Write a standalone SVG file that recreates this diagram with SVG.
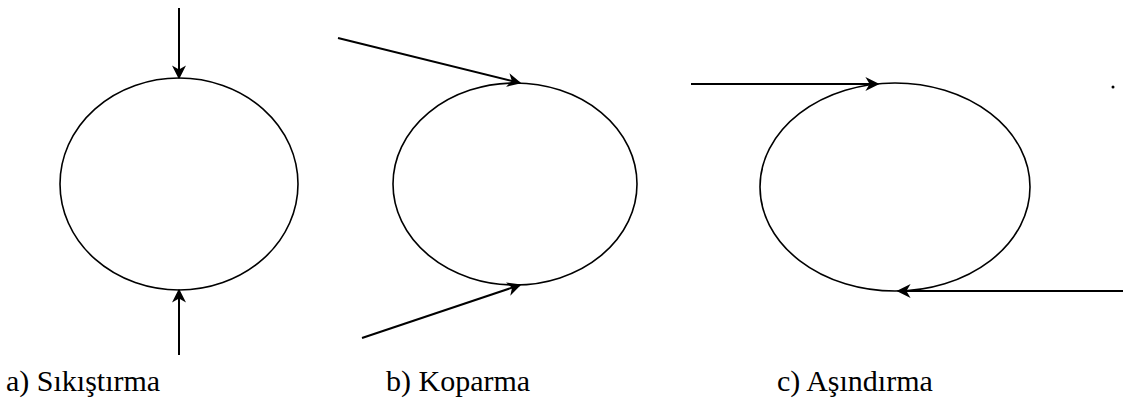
<svg xmlns="http://www.w3.org/2000/svg" width="1123" height="402" viewBox="0 0 1123 402">
<style>
.shape{fill:none;stroke:#000;stroke-width:1.6}
.conn{fill:none;stroke:#000;stroke-width:2;marker-end:url(#ah)}
.lbl{font-family:'Liberation Serif','Times New Roman','DejaVu Serif','Noto Serif',serif;font-size:30px;fill:#000}
</style>
<defs>
<marker id="ah" viewBox="0 0 10 10" refX="9" refY="5" markerWidth="14" markerHeight="14" markerUnits="userSpaceOnUse" orient="auto">
<path d="M0,0 L10,5 L0,10 L3,5 Z" fill="#000"/>
</marker>
</defs>
<rect width="1123" height="402" fill="#fff"/>
<g id="node-a">
<ellipse class="shape" cx="179" cy="184" rx="119" ry="106"/>
<text class="lbl" x="6" y="391">a) Sıkıştırma</text>
</g>
<g id="node-b">
<ellipse class="shape" cx="515" cy="184" rx="122" ry="101"/>
<text class="lbl" x="386" y="391">b) Koparma</text>
</g>
<g id="node-c">
<ellipse class="shape" cx="895" cy="187" rx="135" ry="104"/>
<text class="lbl" x="777" y="391">c) Aşındırma</text>
</g>
<g id="connectors">
<line class="conn" x1="179" y1="8" x2="179" y2="78"/>
<line class="conn" x1="179" y1="355" x2="179" y2="290"/>
<line class="conn" x1="338" y1="38" x2="520" y2="83"/>
<line class="conn" x1="362" y1="338" x2="520" y2="285"/>
<line class="conn" x1="691" y1="84" x2="878" y2="84"/>
<line class="conn" x1="1123" y1="291" x2="898" y2="291"/>
</g>
<circle cx="1113" cy="87" r="1.5" fill="#000"/>
</svg>
